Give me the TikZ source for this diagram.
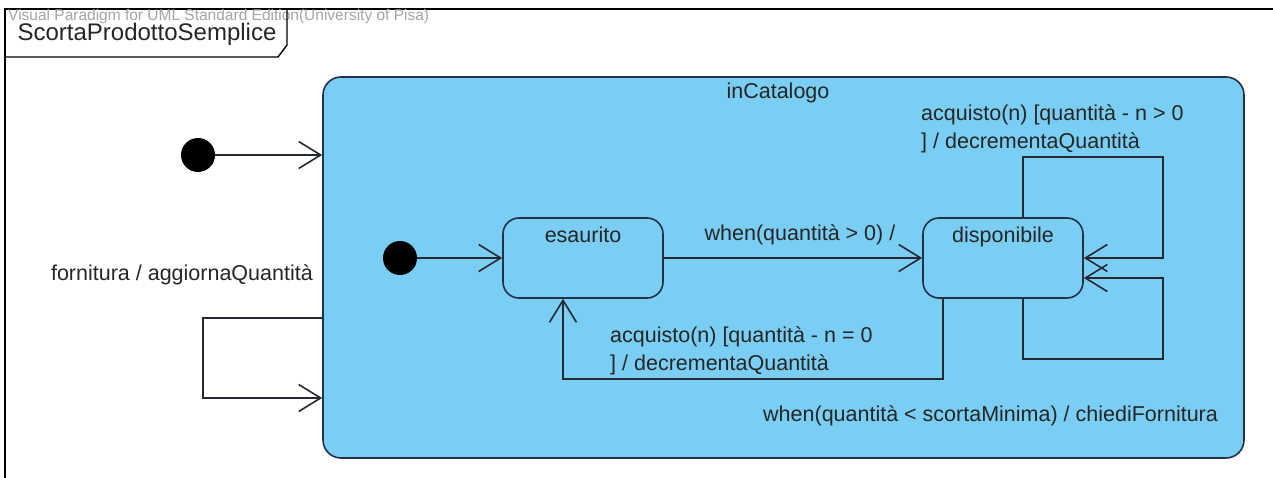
\documentclass[tikz,border=0pt]{standalone}
\usepackage{fontspec}
\setmainfont{Liberation Sans}
\usetikzlibrary{positioning,arrows.meta}
\definecolor{stateblue}{RGB}{122,205,243}
\definecolor{stateline}{RGB}{34,48,72}
\definecolor{transline}{RGB}{38,40,52}
\definecolor{markgray}{RGB}{165,165,165}

\begin{document}
\begin{tikzpicture}[x=1pt,y=-1pt,
  font=\fontsize{21.5}{28}\selectfont,
  trans/.style={draw=transline,line width=1.6pt,-{Straight Barb[length=22pt,width=27pt]}},
  state/.style={draw=stateline,line width=1.6pt,fill=stateblue,rounded corners=16pt,
    minimum width=160pt,minimum height=80pt,inner sep=0pt},
  initial/.style={circle,fill=black,minimum size=34pt,inner sep=0pt},
  lbl/.style={inner sep=0pt,text=black!85}]

\useasboundingbox (0,0) rectangle (1273,478);
\fill[white] (0,0) rectangle (1273,478);

% frame and its tab
\draw[line width=1.8pt] (5,478) -- (5,9) -- (1273,9);
\node[lbl,anchor=west,text=markgray,font=\fontsize{15.5}{17}\selectfont] (mark) at (8,16)
  {Visual Paradigm for UML Standard Edition(University of Pisa)};
\draw[line width=1.4pt] (5,57) -- (278,57) -- (287,45) -- (287,9);
\node[lbl,font=\fontsize{24}{26}\selectfont] (title) at (147,34) {ScortaProdottoSemplice};

% composite state
\node[state,minimum width=921pt,minimum height=381pt,rounded corners=18pt] (catalogo) at (783.5,267.5) {};
\node[lbl] (catname) at (778,93) {inCatalogo};

% states
\node[initial] (start) at (198,155) {};
\node[initial] (inner) at (400,258) {};
\node[state,label={[lbl,anchor=north,yshift=-10pt]north:esaurito}] (esaurito) at (583,258) {};
\node[state,label={[lbl,anchor=north,yshift=-10pt]north:disponibile}] (disponibile) at (1003,258) {};

% transitions
\draw[trans] (start) -- (start -| catalogo.west);
\draw[trans] ([yshift=-50.5pt]catalogo.west) -- (203,318) |- ([yshift=-130.5pt]catalogo.west);
\draw[trans] (inner) -- (esaurito);
\draw[trans] (esaurito) -- (disponibile);
\draw[trans] ([xshift=-60pt]disponibile.south) -- ++(0,80) -| ([xshift=-20pt]esaurito.south);
\draw[trans] ([xshift=20pt]disponibile.north) -- ++(0,-60) -- ++(140,0) |- (disponibile.east);
\draw[trans] ([xshift=20pt]disponibile.south) -- ++(0,60) -- ++(140,0) |- ([yshift=-20pt]disponibile.east);

% labels
\node[lbl,anchor=east] (lfornitura) at (313,275) {fornitura / aggiornaQuantità};
\node[lbl] (lwhen) at (800,235) {when(quantità > 0) /};
\node[lbl,anchor=west,align=left] (lzero) at (610,351) {acquisto(n) [quantità - n = 0\\] / decrementaQuantità};
\node[lbl,anchor=west,align=left] (lpos) at (921,129) {acquisto(n) [quantità - n > 0\\] / decrementaQuantità};
\node[lbl,anchor=west] (lscorta) at (763,416) {when(quantità < scortaMinima) / chiediFornitura};
\end{tikzpicture}
\end{document}
